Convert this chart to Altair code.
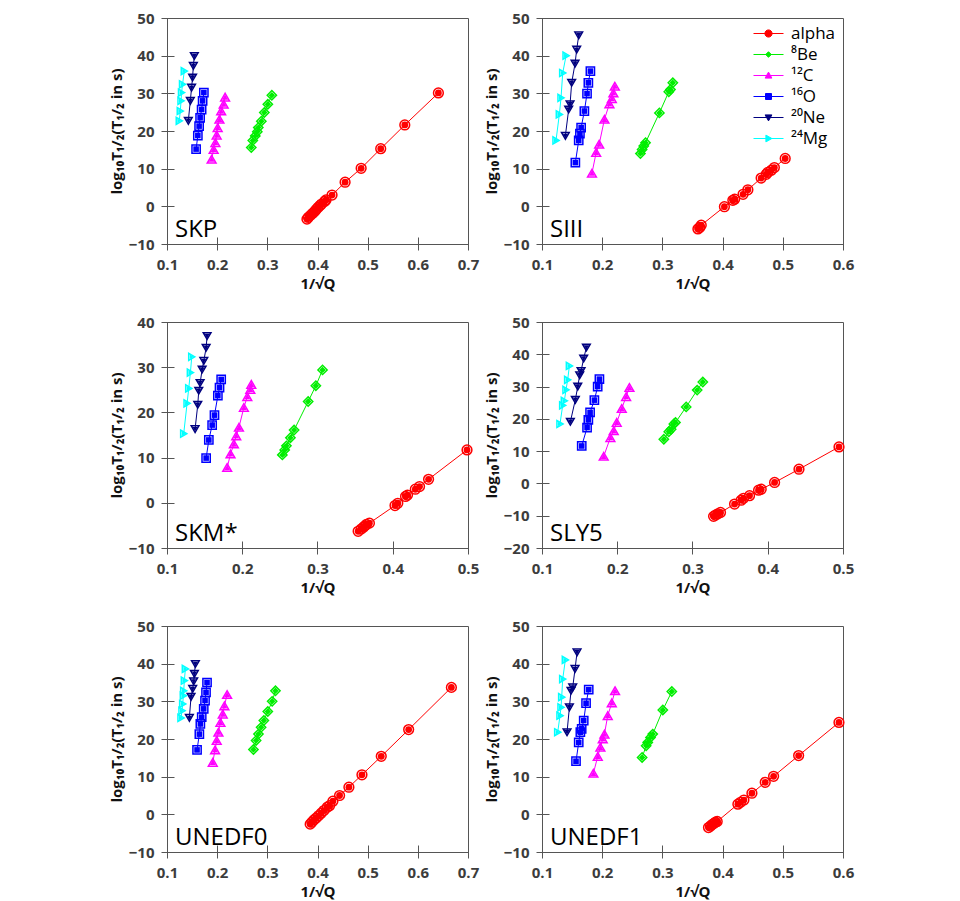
import altair as alt
import pandas as pd

# ---------------- data ----------------
SERIES = ["alpha", "⁸Be", "¹²C", "¹⁶O", "²⁰Ne", "²⁴Mg"]
COLORS = ["#ff0000", "#00ee00", "#ff00ff", "#0000ff", "#00007f", "#00ffff"]
SHAPES = ["circle", "diamond", "triangle-up", "square", "triangle-down", "triangle-right"]
FILLED_SIZE = [46, 22, 44, 40, 44, 44]
OPEN_SIZE = [95, 50, 90, 95, 90, 90]

# legend symbols: a short line with the marker in the middle
LEGEND_PATHS = [
    "M-1.5,0H1.5M-0.36,0A0.36,0.36,0,1,0,0.36,0A0.36,0.36,0,1,0,-0.36,0Z",
    "M-1.5,0H1.5M0,-0.28L0.28,0L0,0.28L-0.28,0Z",
    "M-1.5,0H1.5M0,-0.34L0.34,0.26L-0.34,0.26Z",
    "M-1.5,0H1.5M-0.3,-0.3H0.3V0.3H-0.3Z",
    "M-1.5,0H1.5M-0.34,-0.26L0.34,-0.26L0,0.34Z",
    "M-1.5,0H1.5M-0.26,-0.34L0.34,0L-0.26,0.34Z",
]

PANELS = ["SKP", "SIII", "SKM*", "SLY5", "UNEDF0", "UNEDF1"]
X_DOMAINS = [[0.1, 0.7], [0.1, 0.6], [0.1, 0.5], [0.1, 0.5], [0.1, 0.7], [0.1, 0.6]]
Y_DOMAINS = [[-10, 50], [-10, 50], [-10, 40], [-20, 50], [-10, 50], [-10, 50]]
X_TICKS_07 = [0.1, 0.2, 0.3, 0.4, 0.5, 0.6, 0.7]
X_TICKS_06 = [0.1, 0.2, 0.3, 0.4, 0.5, 0.6]
X_TICKS_05 = [0.1, 0.2, 0.3, 0.4, 0.5]
Y_TICKS_50 = [-10, 0, 10, 20, 30, 40, 50]
Y_TICKS_40 = [-10, 0, 10, 20, 30, 40]
Y_TICKS_SLY = [-20, -10, 0, 10, 20, 30, 40, 50]

# SKP
SKP_alpha = [(0.379, -3.4), (0.382, -2.9), (0.386, -2.4), (0.390, -1.9), (0.394, -1.4), (0.397, -0.9),
             (0.401, -0.3), (0.405, 0.2), (0.408, 0.6), (0.414, 1.3), (0.417, 1.7), (0.429, 3.0),
             (0.455, 6.4), (0.487, 10.1), (0.526, 15.3), (0.574, 21.6), (0.641, 30.1)]
SKP_be = [(0.268, 15.6), (0.271, 17.5), (0.276, 18.7), (0.280, 19.8), (0.282, 20.9), (0.288, 22.6),
          (0.294, 24.9), (0.301, 27.1), (0.309, 29.5)]
SKP_c = [(0.189, 12.5), (0.193, 15.1), (0.1965, 16.9), (0.199, 18.9), (0.201, 20.9), (0.2045, 23.1),
         (0.208, 25.3), (0.213, 27.1), (0.2158, 29.0)]
SKP_o = [(0.158, 15.2), (0.1615, 18.8), (0.164, 21.3), (0.166, 23.5), (0.169, 25.7), (0.171, 28.0),
         (0.1735, 30.2)]
SKP_ne = [(0.1425, 22.7), (0.1465, 28.0), (0.149, 31.5), (0.151, 34.2), (0.1525, 37.3), (0.1545, 39.9)]
SKP_mg = [(0.1245, 22.7), (0.1265, 25.3), (0.128, 28.0), (0.129, 30.2), (0.131, 32.4), (0.1345, 35.9)]

# SIII
SIII_alpha = [(0.359, -6.0), (0.362, -5.6), (0.3645, -5.0), (0.403, -0.1), (0.417, 1.6), (0.420, 1.9),
              (0.434, 3.2), (0.442, 4.4), (0.464, 7.5), (0.4725, 8.5), (0.475, 9.0), (0.481, 9.6),
              (0.486, 10.3), (0.504, 12.7)]
SIII_be = [(0.2635, 14.0), (0.2663, 15.1), (0.269, 16.0), (0.272, 16.9), (0.295, 24.8), (0.3106, 30.4),
           (0.3134, 31.0), (0.3173, 32.8)]
SIII_c = [(0.183, 8.8), (0.190, 14.3), (0.195, 16.5), (0.2037, 23.1), (0.212, 27.2), (0.216, 28.6),
          (0.2186, 30.1), (0.221, 31.9)]
SIII_o = [(0.1554, 11.6), (0.161, 17.5), (0.163, 19.3), (0.165, 20.9), (0.1704, 25.3), (0.1748, 29.9),
          (0.177, 32.8), (0.1804, 35.9)]
SIII_ne = [(0.1388, 18.7), (0.1443, 25.7), (0.1466, 27.1), (0.1493, 32.8), (0.1549, 37.9), (0.1576, 41.6),
           (0.161, 45.4)]
SIII_mg = [(0.1233, 17.5), (0.1288, 24.4), (0.1316, 28.8), (0.1344, 35.4), (0.140, 40.0)]

# SKM*
SKM_alpha = [(0.354, -6.3), (0.358, -5.8), (0.361, -5.4), (0.363, -5.1), (0.365, -4.8), (0.369, -4.5),
             (0.403, -0.6), (0.4067, -0.1), (0.417, 1.4), (0.4196, 1.7), (0.430, 3.0), (0.4356, 3.6),
             (0.4476, 5.2), (0.4987, 11.7)]
SKM_be = [(0.2533, 10.6), (0.2564, 11.7), (0.2587, 12.6), (0.264, 14.4), (0.2689, 16.1), (0.2876, 22.4),
          (0.2978, 25.9), (0.3067, 29.4)]
SKM_c = [(0.180, 7.8), (0.1844, 10.8), (0.1889, 13.0), (0.192, 14.8), (0.1956, 16.7), (0.2022, 21.1),
         (0.2067, 23.5), (0.2107, 25.1), (0.212, 26.2)]
SKM_o = [(0.152, 9.9), (0.1556, 13.9), (0.160, 17.2), (0.1631, 19.4), (0.1676, 23.7), (0.1698, 25.5),
         (0.172, 27.3)]
SKM_ne = [(0.1373, 16.3), (0.1409, 21.7), (0.1422, 24.8), (0.144, 26.5), (0.1467, 29.5), (0.1489, 31.4),
          (0.152, 34.3), (0.1533, 36.9)]
SKM_mg = [(0.1222, 15.3), (0.1267, 22.0), (0.1289, 25.3), (0.1311, 28.8), (0.1329, 32.3)]

# SLY5
SLY_alpha = [(0.328, -10.2), (0.3306, -9.8), (0.3337, -9.4), (0.3372, -9.0), (0.3559, -6.4), (0.3647, -5.2),
             (0.3678, -4.6), (0.3758, -3.8), (0.3878, -2.1), (0.3913, -1.8), (0.4091, 0.3), (0.4415, 4.4),
             (0.4947, 11.3)]
SLY_be = [(0.2619, 13.7), (0.2685, 16.0), (0.2716, 16.8), (0.2752, 18.4), (0.2774, 18.9), (0.2916, 23.7),
          (0.3062, 28.9), (0.3137, 31.4)]
SLY_c = [(0.182, 8.4), (0.1909, 14.2), (0.1953, 16.3), (0.1993, 18.9), (0.206, 23.2), (0.2118, 26.9),
         (0.2162, 29.7)]
SLY_o = [(0.1528, 11.6), (0.1599, 17.3), (0.1616, 19.7), (0.1639, 22.0), (0.1696, 25.8), (0.174, 30.0),
         (0.1763, 32.3)]
SLY_ne = [(0.1377, 19.1), (0.1443, 25.9), (0.1475, 30.0), (0.1501, 33.5), (0.1519, 34.8), (0.1554, 38.7),
          (0.159, 42.1)]
SLY_mg = [(0.1239, 18.4), (0.1275, 24.2), (0.1297, 25.6), (0.1319, 29.0), (0.1341, 32.1), (0.1364, 36.4)]

# UNEDF0
UN0_alpha = [(0.3854, -2.6), (0.3888, -2.1), (0.3928, -1.5), (0.3974, -1.0), (0.402, -0.4), (0.4074, 0.3),
             (0.4127, 1.0), (0.4194, 1.9), (0.424, 2.3), (0.4307, 3.5), (0.444, 5.0), (0.4626, 7.2),
             (0.4886, 10.5), (0.5271, 15.4), (0.5817, 22.5), (0.6669, 33.7)]
UN0_be = [(0.2723, 17.2), (0.2776, 19.6), (0.2823, 21.3), (0.2876, 23.1), (0.293, 24.9), (0.3009, 27.3),
          (0.3096, 30.0), (0.3162, 32.8)]
UN0_c = [(0.1912, 13.8), (0.1958, 17.1), (0.1991, 19.6), (0.2025, 21.8), (0.2065, 24.4), (0.2111, 26.6),
         (0.2144, 28.8), (0.2198, 31.8)]
UN0_o = [(0.1599, 17.1), (0.1645, 21.3), (0.1665, 24.0), (0.1692, 25.8), (0.1732, 28.0), (0.1758, 30.2),
         (0.1778, 32.4), (0.1798, 35.0)]
UN0_ne = [(0.1446, 25.6), (0.1479, 31.2), (0.1512, 33.3), (0.1532, 35.3), (0.1546, 37.3), (0.1566, 39.9)]
UN0_mg = [(0.1279, 25.6), (0.1299, 27.5), (0.1313, 29.3), (0.1326, 31.5), (0.1333, 32.8), (0.1346, 35.5),
          (0.1366, 38.6)]

# UNEDF1
UN1_alpha = [(0.3766, -3.5), (0.3799, -3.1), (0.3827, -2.7), (0.3855, -2.4), (0.3882, -2.1), (0.391, -1.9),
             (0.4254, 2.7), (0.4298, 3.2), (0.4354, 3.8), (0.4487, 5.6), (0.4708, 8.5), (0.4847, 10.1),
             (0.5263, 15.6), (0.5933, 24.4)]
UN1_be = [(0.2663, 15.1), (0.273, 18.2), (0.2757, 19.1), (0.2802, 20.4), (0.284, 21.3), (0.3007, 27.7),
          (0.3156, 32.6)]
UN1_c = [(0.1854, 10.9), (0.1926, 15.4), (0.197, 17.8), (0.2009, 20.0), (0.2037, 21.3), (0.2092, 26.2),
         (0.2159, 29.6), (0.2214, 32.8)]
UN1_o = [(0.1565, 14.1), (0.161, 19.1), (0.1637, 21.8), (0.1659, 22.7), (0.1693, 24.9), (0.1732, 29.5),
         (0.1776, 33.1)]
UN1_ne = [(0.1416, 21.8), (0.1455, 28.4), (0.1482, 32.8), (0.151, 33.7), (0.1549, 38.6), (0.1582, 43.0)]
UN1_mg = [(0.1261, 21.8), (0.1299, 26.2), (0.1316, 28.4), (0.1327, 31.1), (0.1344, 35.9), (0.1388, 41.0)]

PANEL_DATA = [
    [SKP_alpha, SKP_be, SKP_c, SKP_o, SKP_ne, SKP_mg],
    [SIII_alpha, SIII_be, SIII_c, SIII_o, SIII_ne, SIII_mg],
    [SKM_alpha, SKM_be, SKM_c, SKM_o, SKM_ne, SKM_mg],
    [SLY_alpha, SLY_be, SLY_c, SLY_o, SLY_ne, SLY_mg],
    [UN0_alpha, UN0_be, UN0_c, UN0_o, UN0_ne, UN0_mg],
    [UN1_alpha, UN1_be, UN1_c, UN1_o, UN1_ne, UN1_mg],
]
X_TICKS = [X_TICKS_07, X_TICKS_06, X_TICKS_05, X_TICKS_05, X_TICKS_07, X_TICKS_06]
Y_TICKS = [Y_TICKS_50, Y_TICKS_50, Y_TICKS_40, Y_TICKS_SLY, Y_TICKS_50, Y_TICKS_50]

Y_TITLE = "log₁₀T₁/₂(T₁/₂ in s)"
X_TITLE = "1/√Q"
FONT = "Open Sans"
W, H = 301, 226

RES = dict(color="independent", shape="independent", size="independent",
           fill="independent", stroke="independent")


def make_panel(i, with_legend=False):
    rows = []
    for s, pts in zip(SERIES, PANEL_DATA[i]):
        for x, y in pts:
            rows.append({"x": x, "y": y, "series": s})
    df = pd.DataFrame(rows)
    base = alt.Chart(df)
    xenc = alt.X("x:Q", scale=alt.Scale(domain=X_DOMAINS[i], nice=False, zero=False),
                 axis=alt.Axis(values=X_TICKS[i], format=".1f", title=X_TITLE))
    yenc = alt.Y("y:Q", scale=alt.Scale(domain=Y_DOMAINS[i], nice=False, zero=False),
                 axis=alt.Axis(values=Y_TICKS[i], format="d", title=Y_TITLE))
    color = alt.Color("series:N", scale=alt.Scale(domain=SERIES, range=COLORS), legend=None)
    shape = alt.Shape("series:N", scale=alt.Scale(domain=SERIES, range=SHAPES), legend=None)

    line = base.mark_line(strokeWidth=1).encode(x=xenc, y=yenc, color=color)
    open_pts = base.mark_point(filled=False, strokeWidth=1.5, opacity=1).encode(
        x=xenc, y=yenc, color=color, shape=shape,
        size=alt.Size("series:N", scale=alt.Scale(domain=SERIES, range=OPEN_SIZE), legend=None))
    filled_pts = base.mark_point(filled=True, opacity=1).encode(
        x=xenc, y=yenc, color=color, shape=shape,
        size=alt.Size("series:N", scale=alt.Scale(domain=SERIES, range=FILLED_SIZE), legend=None))
    label = alt.Chart(pd.DataFrame({"label": [PANELS[i]]})).mark_text(
        align="left", baseline="alphabetic", font=FONT, fontSize=24, color="#000000"
    ).encode(text="label:N", x=alt.value(8), y=alt.value(H - 7))

    layers = [line, filled_pts, open_pts, label]
    if with_legend:
        leg = alt.Legend(title=None, orient="none", legendX=216, legendY=5, symbolSize=400,
                         symbolStrokeWidth=1, labelFont=FONT, labelFontSize=17, labelColor="#000000",
                         labelOffset=12, rowPadding=2, padding=0, symbolOpacity=1)
        ldf = pd.DataFrame({"key": SERIES})
        legend_layer = alt.Chart(ldf).mark_point(filled=True, strokeWidth=1).encode(
            shape=alt.Shape("key:N", scale=alt.Scale(domain=SERIES, range=LEGEND_PATHS), legend=leg),
            fill=alt.Fill("key:N", scale=alt.Scale(domain=SERIES, range=COLORS), legend=leg),
            stroke=alt.Stroke("key:N", scale=alt.Scale(domain=SERIES, range=COLORS), legend=leg),
        ).transform_filter(alt.datum.key == "__none__")
        layers.append(legend_layer)
    chart = alt.layer(*layers).resolve_scale(**RES)
    return chart.properties(width=W, height=H)


panels = [make_panel(i, with_legend=(i == 1)) for i in range(6)]

chart = alt.concat(
    *panels, columns=2, spacing={"row": 78, "column": 74}, bounds="flush"
).resolve_scale(**RES).properties(
    padding={"left": 100, "top": 2, "right": 5, "bottom": 0},
    background="#ffffff",
).configure_view(
    stroke="#555555", strokeWidth=1
).configure_axis(
    domain=False, grid=False, ticks=True, tickSize=13, tickColor="#555555", tickWidth=1,
    offset=-7, labelFont=FONT, labelFontWeight="bold", labelFontSize=15, labelColor="#3c3c3c",
    labelPadding=7, labelFlush=False, titleFont=FONT, titleFontWeight="bold", titleFontSize=15,
    titleColor="#111111",
).configure_axisX(titlePadding=4).configure_axisY(titlePadding=4)

chart.save("out.html", embed_options={"renderer": "svg", "actions": False})
